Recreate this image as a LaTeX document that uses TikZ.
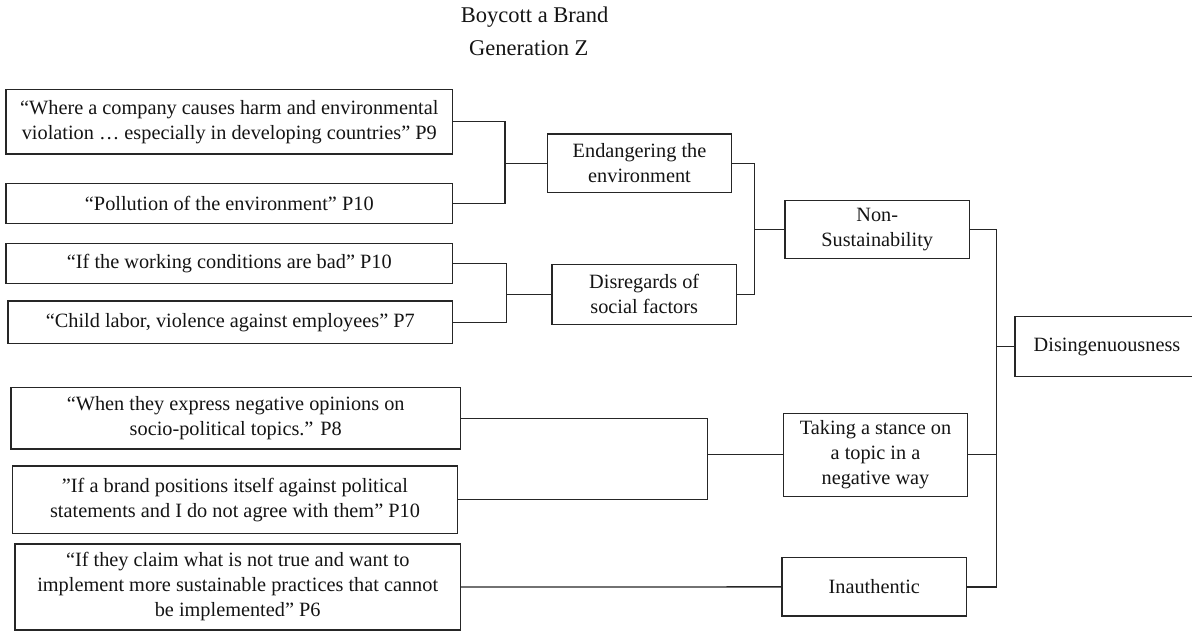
\documentclass[tikz,border=0pt]{standalone}
\usepackage{fontspec}
\setmainfont{Liberation Serif}
\begin{document}
\begin{tikzpicture}[x=1pt,y=-1pt,
  every node/.style={font=\fontsize{20.3}{25}\selectfont, text=black!92},
  titletext/.style={font=\fontsize{22.5}{27}\selectfont},
  box/.style={draw=black!85, line width=1.35pt, rectangle, inner sep=0pt, align=center, anchor=center},
  conn/.style={draw=black!85, line width=1.35pt}]
\useasboundingbox (0,0) rectangle (1192,635);
% title
\node[titletext] (t1) at (534.7,16.7) {Boycott a Brand};
\node[titletext] (t2) at (528.8,48) {Generation Z};
% quote boxes
\node[box, minimum width=446.7pt, minimum height=64.7pt] (A1) at (229.3,121.7)
  {“Where a company causes harm and environmental\\violation … especially in developing countries” P9};
\node[box, minimum width=446.7pt, minimum height=40pt] (A2) at (229.3,203.3)
  {“Pollution of the environment” P10};
\node[box, minimum width=446.7pt, minimum height=40pt] (B1) at (229.3,263.3)
  {“If the working conditions are bad” P10};
\node[box, minimum width=444.7pt, minimum height=42.3pt] (B2) at (230.3,322.2)
  {“Child labor, violence against employees” P7};
\node[box, minimum width=449.3pt, minimum height=61.7pt] (C1) at (235.7,418.2)
  {“When they express negative opinions on\\socio-political topics.” P8};
\node[box, minimum width=444.6pt, minimum height=67.3pt] (C2) at (235,499.7)
  {”If a brand positions itself against political\\statements and I do not agree with them” P10};
\node[box, minimum width=445.3pt, minimum height=86pt] (C3) at (237.7,587)
  {“If they claim what is not true and want to\\implement more sustainable practices that cannot\\be implemented” P6};
% category boxes
\node[box, minimum width=184.4pt, minimum height=58.3pt] (End) at (639.5,163.2)
  {Endangering the\\environment};
\node[box, minimum width=184.3pt, minimum height=60pt] (Dis) at (644.2,294.3)
  {Disregards of\\social factors};
\node[box, minimum width=184.3pt, minimum height=57.6pt] (NonS) at (877.2,229.5)
  {Non-\\Sustainability};
\node[box, minimum width=184.4pt, minimum height=83pt] (Tak) at (875.5,454.8)
  {Taking a stance on\\a topic in a\\negative way};
\node[box, minimum width=184.7pt, minimum height=58.3pt] (Ina) at (874.3,586.9)
  {Inauthentic};
\node[box, minimum width=184pt, minimum height=60pt] (Disi) at (1107,346.7)
  {Disingenuousness};
% bar coordinates
\coordinate (bA) at (505,0);
\coordinate (bB) at (506.5,0);
\coordinate (bC) at (754.5,0);
\coordinate (bE) at (707.5,0);
\coordinate (bF) at (996.5,0);
% connectors
\draw[conn] (A1.east) -| (bA |- A2.east) -- (A2.east);
\draw[conn] (bA |- End.west) -- (End.west);
\draw[conn] (B1.east) -| (bB |- B2.east) -- (B2.east);
\draw[conn] (bB |- Dis.west) -- (Dis.west);
\draw[conn] (End.east) -| (bC |- Dis.east) -- (Dis.east);
\draw[conn] (bC |- NonS.west) -- (NonS.west);
\draw[conn] (C1.east) -| (bE |- C2.east) -- (C2.east);
\draw[conn] (bE |- Tak.west) -- (Tak.west);
\draw[conn] (C3.east) -- (Ina.west);
\draw[conn] (NonS.east) -| (bF |- Ina.east) -- (Ina.east);
\draw[conn] (bF |- Tak.east) -- (Tak.east);
\draw[conn] (bF |- Disi.west) -- (Disi.west);
\end{tikzpicture}
\end{document}
